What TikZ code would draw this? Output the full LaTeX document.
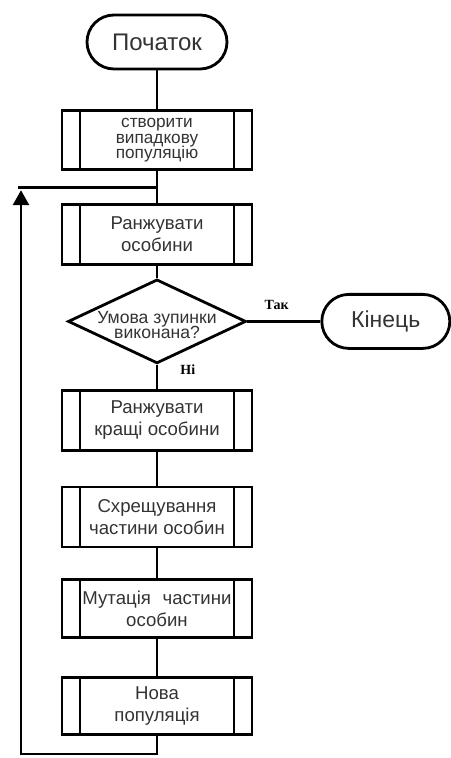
\documentclass[tikz,border=0pt]{standalone}
\usepackage{fontspec}
\setmainfont{Liberation Sans}
\newfontfamily\markfont{Liberation Serif}
\usetikzlibrary{positioning,shapes.geometric,arrows.meta,calc}
\newcommand\tightlines{\lineskiplimit=-5pt\relax}

\begin{document}
\begin{tikzpicture}[
    line width=1.4pt,
    terminal/.style={draw, rectangle, rounded corners=13.5pt, minimum width=70pt,
        minimum height=27pt, text=black!80, font=\fontsize{12}{14}\selectfont},
    procbox/.style={draw, rectangle, minimum width=95pt, minimum height=30pt,
        inner sep=0pt, align=center, text=black!80,
        font=\fontsize{9.3}{11}\selectfont,
        path picture={
            \draw ([xshift=9pt]path picture bounding box.north west)
               -- ([xshift=9pt]path picture bounding box.south west)
                  ([xshift=-9pt]path picture bounding box.north east)
               -- ([xshift=-9pt]path picture bounding box.south east);
        }},
    decision/.style={draw, diamond, minimum width=89pt, minimum height=42pt,
        inner sep=0pt},
    answer/.style={font=\markfont\bfseries\fontsize{7}{8}\selectfont, inner sep=1pt},
]
    \useasboundingbox (0,0) rectangle (225pt,-379pt);

    \node[terminal] (start) at (78.5pt,-21pt) {Початок};
    \node[procbox, minimum height=29.5pt,
        font={\fontsize{8.6}{7.6}\selectfont\tightlines},
        below=19.5pt of start] (create)
        {створити\\випадкову\\популяцію};
    \node[procbox, below=16pt of create] (rank) {Ранжувати\\особини};
    \node[decision, below=6pt of rank,
        label={[align=center, text=black!80,
            font={\fontsize{8.8}{7.6}\selectfont\tightlines},
            yshift=-2pt]center:Умова зупинки\\виконана?}] (stop) {};
    \node[terminal, minimum width=64pt, font=\fontsize{11.5}{13}\selectfont,
        right=36.5pt of stop] (end) {Кінець};
    \node[procbox, below=12pt of stop] (rankbest) {Ранжувати\\кращі особини};
    \node[procbox, below=17pt of rankbest] (cross) {Схрещування\\частини особин};
    \node[procbox, minimum height=29pt, below=15pt of cross] (mutate)
        {Мутація\hspace{0.35em} частини\\особин};
    \node[procbox, minimum height=28.5pt, below=18.5pt of mutate] (newpop)
        {Нова\\популяція};

    % main line
    \draw (start) -- (create);
    \draw (create) -- (rank);
    \draw (rank) -- (stop);
    \draw (stop) -- node[answer, pos=0.2, right=10pt] {Ні} (rankbest);
    \draw (stop) -- node[answer, pos=0.4, above=4pt] {Так} (end);
    \draw (rankbest) -- (cross);
    \draw (cross) -- (mutate);
    \draw (mutate) -- (newpop);

    % loop back
    \coordinate (loopjoin) at ($(create.south)!0.5!(rank.north)$);
    \coordinate (loopcorner) at (10.5pt,0 |- loopjoin);
    \coordinate (loopbottom) at (10.5pt,-377pt);
    \draw[-{Triangle[width=8pt,length=7.5pt]}]
        (newpop.south) |- (loopbottom) -- ([yshift=-1.5pt]loopcorner);
    \draw ([xshift=-1.5pt]loopcorner) -- (loopjoin);
\end{tikzpicture}
\end{document}
